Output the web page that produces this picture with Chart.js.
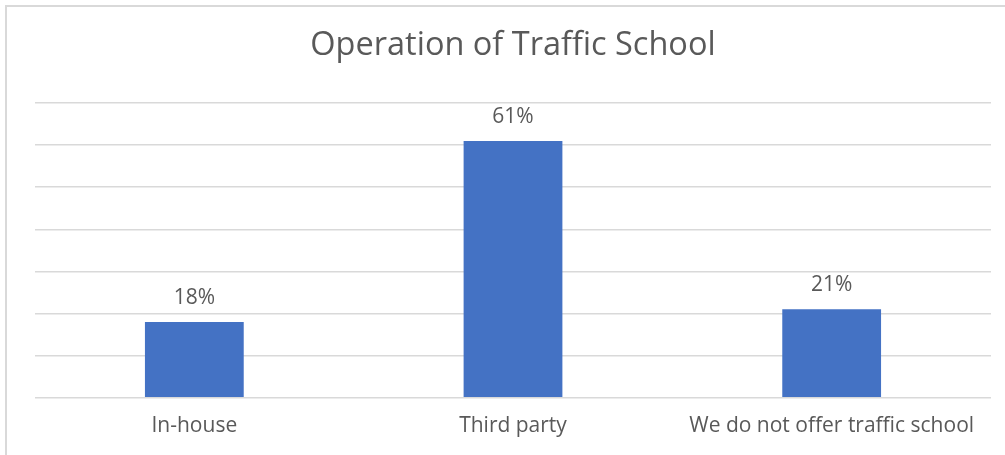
<!DOCTYPE html>
<html>
<head>
<meta charset="utf-8">
<script src="https://cdn.jsdelivr.net/npm/chart.js@4.4.1/dist/chart.umd.min.js"></script>
<style>
  html, body { margin: 0; padding: 0; overflow: hidden; background: #fff; }
  #wrap { position: relative; width: 1005px; height: 455px; }
  #frame { position: absolute; left: 5px; top: 5px; width: 1010px; height: 460px;
           border: 2px solid #d9d9d9; pointer-events: none; }
</style>
</head>
<body>
<div id="wrap">
  <canvas id="chart" width="1005" height="455"></canvas>
  <div id="frame"></div>
</div>
<script>
var categories = ["In-house", "Third party", "We do not offer traffic school"];
var shares = [18, 61, 21];
var yTicks = [0, 10, 20, 30, 40, 50, 60, 70];

var textColor = "#595959";
var fontFamily = "'Open Sans', Lato, sans-serif";

// value labels above the bars
var barLabels = {
    id: "barLabels",
    afterDatasetsDraw: function (chart) {
        var ctx = chart.ctx;
        var meta = chart.getDatasetMeta(0);
        ctx.save();
        ctx.fillStyle = textColor;
        ctx.font = "21px " + fontFamily;
        ctx.textAlign = "center";
        ctx.textBaseline = "middle";
        meta.data.forEach(function (bar, i) {
            ctx.fillText(shares[i] + "%", bar.x, bar.y - 24);
        });
        ctx.restore();
    }
};

var chart = new Chart(document.getElementById("chart").getContext("2d"), {
    type: "bar",
    data: {
        labels: categories,
        datasets: [{
            data: shares,
            backgroundColor: "#4472C4",
            categoryPercentage: 1,
            barPercentage: 0.31
        }]
    },
    options: {
        responsive: false,
        animation: false,
        layout: { padding: { left: 35, right: 14, top: 13, bottom: 0 } },
        plugins: {
            legend: { display: false },
            tooltip: { enabled: false },
            title: {
                display: true,
                text: "Operation of Traffic School",
                color: textColor,
                font: { family: fontFamily, size: 32.5, weight: "normal" },
                padding: { top: 13, bottom: 38 }
            }
        },
        scales: {
            x: {
                grid: { display: false, drawTicks: false },
                border: { display: false },
                ticks: {
                    color: textColor,
                    font: { family: fontFamily, size: 21 },
                    padding: 16,
                    maxRotation: 0
                }
            },
            y: {
                min: yTicks[0],
                max: yTicks[yTicks.length - 1],
                afterBuildTicks: function (axis) {
                    axis.ticks = yTicks.map(function (v) { return { value: v }; });
                },
                grid: { color: "#d9d9d9", lineWidth: 1.5, drawTicks: false },
                border: { display: false },
                ticks: { display: false }
            }
        }
    },
    plugins: [barLabels]
});
</script>
</body>
</html>
